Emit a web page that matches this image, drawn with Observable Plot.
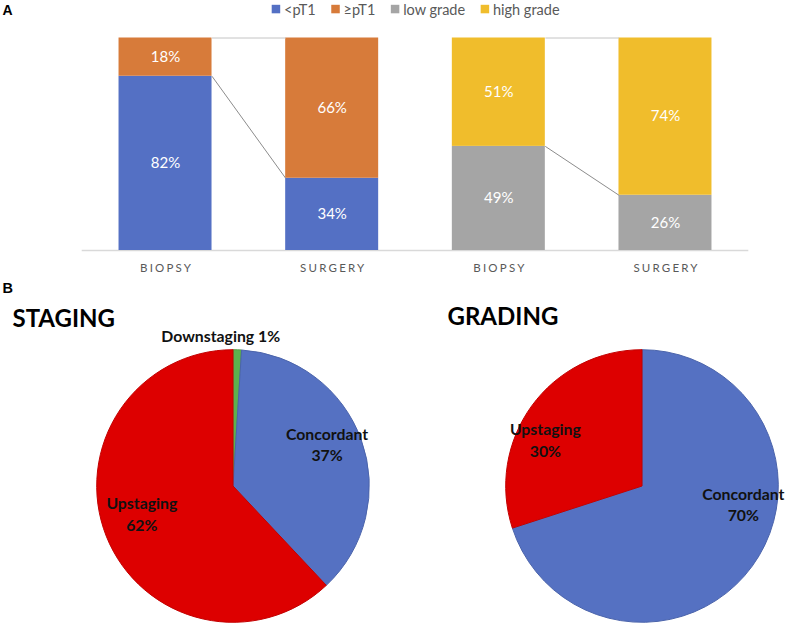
<!DOCTYPE html>
<html>
<head>
<meta charset="utf-8">
<script src="https://cdn.jsdelivr.net/npm/d3@7"></script>
<script src="https://cdn.jsdelivr.net/npm/@observablehq/plot@0.6"></script>
<style>
  html, body { margin: 0; padding: 0; background: #fff; }
  #root { position: relative; width: 788px; height: 628px; overflow: hidden; font-family: Lato, sans-serif; }
  #barsA, #pies, #overlay { position: absolute; left: 0; }
  #barsA { top: 0; }
  #pies { top: 296px; }
  #overlay { top: 0; pointer-events: none; }
</style>
</head>
<body>
<div id="root">
  <div id="barsA"></div>
  <div id="pies"></div>
  <svg id="overlay" width="788" height="628"></svg>
</div>
<script>
// ---------- DATA ----------
const stageSeries = ["<pT1", "≥pT1"];
const gradeSeries = ["low grade", "high grade"];
const barLabels = ["BIOPSY", "SURGERY", "BIOPSY", "SURGERY"];
const stageBiopsy = [82, 18];
const stageSurgery = [34, 66];
const gradeBiopsy = [49, 51];
const gradeSurgery = [26, 74];
const seriesColors = ["#5470C4", "#D77B3A", "#A5A5A5", "#F0BD2C"];

const stagingNames = ["Downstaging", "Concordant", "Upstaging"];
const stagingValues = [1, 37, 62];
const gradingNames = ["Concordant", "Upstaging"];
const gradingValues = [70, 30];
const sliceColorNames = ["Downstaging", "Concordant", "Upstaging"];
const sliceColors = ["#5DB14E", "#5571C2", "#DD0000"];

// ---------- LAYOUT (not data) ----------
const hw = 0.279;          // half bar width in x units
const R = 136.3;           // pie radius
// label placement: [angle (deg, clockwise from top), radius fraction, single-line]
const labelLayout = {
  STAGING: [[355.3, 1.10, true], [66.4, 0.753, false], [252.9, 0.70, false]],
  GRADING: [[100.6, 0.756, false], [295.4, 0.785, false]]
};

// ---------- PANEL A: stacked bars ----------
const bars = [
  {series: stageSeries, values: stageBiopsy},
  {series: stageSeries, values: stageSurgery},
  {series: gradeSeries, values: gradeBiopsy},
  {series: gradeSeries, values: gradeSurgery}
];
const rows = bars.flatMap((b, i) => {
  let acc = 0;
  return b.values.map((v, j) => ({pos: i, series: b.series[j], value: v, y1: acc, y2: (acc += v)}));
});
const cum = vals => Array.from(d3.cumsum(vals));
const links = [[0, 1], [2, 3]].flatMap(([a, b]) =>
  [0, 1].map(j => ({x1: a + hw, x2: b - hw, y1: cum(bars[a].values)[j], y2: cum(bars[b].values)[j], top: j === 1}))
);
const ticks = barLabels.map((label, pos) => ({pos, label}));

const barPlot = Plot.plot({
  width: 788, height: 285,
  marginTop: 37.5, marginBottom: 35, marginLeft: 81.7, marginRight: 39.7,
  style: {fontFamily: "Lato, sans-serif", background: "transparent"},
  x: {domain: [-0.5, 3.5], axis: null},
  y: {domain: [0, 100], axis: null},
  color: {domain: [...stageSeries, ...gradeSeries], range: seriesColors},
  marks: [
    Plot.ruleY([0], {stroke: "#d9d9d9", strokeWidth: 1.5}),
    Plot.rectY(rows, {x1: d => d.pos - hw, x2: d => d.pos + hw, y1: "y1", y2: "y2", fill: "series"}),
    Plot.link(links.filter(d => d.top), {x1: "x1", x2: "x2", y1: "y1", y2: "y2", stroke: "#c4c4c4", strokeWidth: 1}),
    Plot.link(links.filter(d => !d.top), {x1: "x1", x2: "x2", y1: "y1", y2: "y2", stroke: "#8c8c8c", strokeWidth: 1}),
    Plot.text(rows, {x: "pos", y: d => (d.y1 + d.y2) / 2, text: d => d.value + "%", fill: "white", fontSize: 15}),
    Plot.text(ticks, {x: "pos", y: 0, dy: 18.3, dx: 1.1, text: "label", fill: "#595959", fontSize: 11.5})
  ]
});
document.getElementById("barsA").append(barPlot);
d3.select(barPlot).selectAll("text")
  .filter(function() { return barLabels.includes(this.textContent); })
  .style("letter-spacing", "2.2px");

// ---------- PANEL B: pies ----------
const pies = [
  {name: "STAGING", names: stagingNames, values: stagingValues},
  {name: "GRADING", names: gradingNames, values: gradingValues}
];
const sliceColor = n => sliceColors[sliceColorNames.indexOf(n)];

const piePlot = Plot.plot({
  width: 788, height: 332,
  marginLeft: 232.7, marginRight: 146.3, marginTop: 190, marginBottom: 142,
  style: {fontFamily: "Lato, sans-serif", background: "transparent"},
  x: {type: "point", domain: pies.map(p => p.name), padding: 0, axis: null},
  marks: [
    Plot.dot(pies, {x: "name", r: 0}),
    (index, scales, values, dimensions) => {
      const g = d3.create("svg:g");
      const cy = dimensions.marginTop;
      for (const p of pies) {
        const cx = scales.x(p.name);
        const arcs = d3.pie().sort(null).value(d => d)(p.values);
        const arc = d3.arc().innerRadius(0).outerRadius(R);
        const pg = g.append("g").attr("transform", `translate(${cx},${cy})`);
        pg.selectAll("path").data(arcs).join("path")
          .attr("d", arc)
          .attr("fill", (d, i) => sliceColor(p.names[i]))
          .attr("stroke", (d, i) => d3.color(sliceColor(p.names[i])).darker(0.35))
          .attr("stroke-width", 1);
        arcs.forEach((d, i) => {
          const [ang, rf, single] = labelLayout[p.name][i];
          const a = ang * Math.PI / 180;
          const lx = Math.sin(a) * rf * R, ly = -Math.cos(a) * rf * R;
          const t = pg.append("text")
            .attr("text-anchor", "middle")
            .attr("font-family", "Lato, sans-serif")
            .attr("font-weight", "bold")
            .attr("font-size", 15.8)
            .attr("fill", "#111");
          if (single) {
            t.attr("x", lx).attr("y", ly).attr("dy", "0.36em").text(`${p.names[i]} ${p.values[i]}%`);
          } else {
            t.append("tspan").attr("x", lx).attr("y", ly - 10.8).attr("dy", "0.36em").text(p.names[i]);
            t.append("tspan").attr("x", lx).attr("y", ly + 10.8).attr("dy", "0.36em").text(`${p.values[i]}%`);
          }
        });
      }
      return g.node();
    }
  ]
});
document.getElementById("pies").append(piePlot);

// ---------- OVERLAY TEXT: panel letters, titles, legend ----------
const ov = d3.select("#overlay");
ov.append("text").attr("x", 2.5).attr("y", 15.3).attr("font-family", "Liberation Sans, Arial, sans-serif")
  .attr("font-weight", "bold").attr("font-size", 14).attr("fill", "#000").text("A");
ov.append("text").attr("x", 2.5).attr("y", 293.3).attr("font-family", "Liberation Sans, Arial, sans-serif")
  .attr("font-weight", "bold").attr("font-size", 14.5).attr("fill", "#000").text("B");
ov.append("text").attr("x", 12.5).attr("y", 327.3).attr("font-family", "Lato, sans-serif")
  .attr("font-weight", "bold").attr("font-size", 24).attr("fill", "#000").text(pies[0].name);
ov.append("text").attr("x", 447.5).attr("y", 325.3).attr("font-family", "Lato, sans-serif")
  .attr("font-weight", "bold").attr("font-size", 24).attr("fill", "#000").text(pies[1].name);

const legendItems = [...stageSeries, ...gradeSeries];
let lx = 271.7;
legendItems.forEach((name, i) => {
  ov.append("rect").attr("x", lx).attr("y", 4.8).attr("width", 8.5).attr("height", 8.5).attr("fill", seriesColors[i]);
  const t = ov.append("text").attr("x", lx + 12.3).attr("y", 14.6)
    .attr("font-family", "Lato, sans-serif").attr("font-size", 14.5).attr("fill", "#595959").text(name);
  lx = lx + 12.3 + t.node().getComputedTextLength() + 15.5;
});
</script>
</body>
</html>
